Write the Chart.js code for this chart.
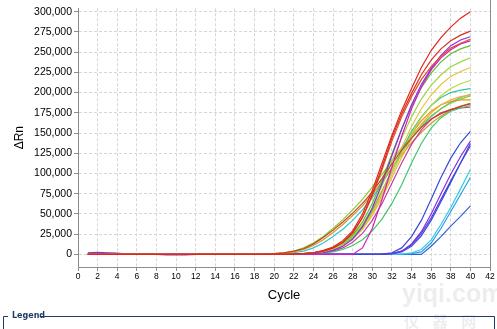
<!DOCTYPE html>
<html>
<head>
<meta charset="utf-8">
<script src="https://cdn.jsdelivr.net/npm/chart.js@4.4.1/dist/chart.umd.min.js"></script>
<style>
html,body{margin:0;padding:0;background:#fff;}
#wrap{width:497px;height:329px;position:relative;}
</style>
</head>
<body>
<div id="wrap"><canvas id="c" width="497" height="329"></canvas></div>
<script>
// Cycle numbers (x values)
const cycles = [1,2,3,4,5,6,7,8,9,10,11,12,13,14,15,16,17,18,19,20,21,22,23,24,25,26,27,28,29,30,31,32,33,34,35,36,37,38,39,40];
// Axis tick labels
const xTicks = [0,2,4,6,8,10,12,14,16,18,20,22,24,26,28,30,32,34,36,38,40,42];
const yTicks = [0,25000,50000,75000,100000,125000,150000,175000,200000,225000,250000,275000,300000];

// ΔRn series values, in thousands
const R1 = [0,0,0,0,0,0,0,0,0,0, 0,0,0,0,0,0,0,0,0,0, 0,0.5,1,2,5,9,17,29,50,79, 113,147,178,205,231,252,268,281,292,300];
const R2 = [0,0,0,0,0,0,0,0,0,0, 0,0,0,0,0,0,0,0,0,0, 0,0.5,1,2,4,8,15,27,46,74, 108,144,174,199,222,240,254,264,271,276];
const R3 = [0,0,0,0,0,0,0,0,0,0, 0,0,0,0,0,0,0,0,0,0, 0,0.5,1,2,4,8,15,26,45,72, 105,140,170,195,216,232,245,255,261,266];
const B1 = [0,0,0,0,0,0,0,0,0,0, 0,0,0,0,0,0,0,0,0.5,1, 2,4,7,13,21,30,40,51,63,77, 94,112,129,144,157,167,174,179,183,186];
const M1 = [0,0,0,0,0,0,0,0,-0.5,-0.5, -0.5,0,0,0,0,0,0,0,0,0, 0,0,0.5,1,2,5,10,19,34,57, 88,122,155,185,210,230,246,258,265,269];
const MG = [0,0,0,0,0,0,0,0,0,0, 0,0,0,0,0,0,0,0,0,0, 0,0,0,0,0,0,0,0,8,32, 68,108,146,180,207,228,243,253,260,264];
const G1 = [0,0,0,0,0,0,0,0,0,0, 0,0,0,0,0,0,0,0,0,0, 0,0,1,2,4,8,14,24,40,63, 92,124,155,183,206,224,238,248,254,258];
const LG = [0,0,0,0,0,0,0,0,0,0, 0,0,0,0,0,0,0,0,0,0, 0,0,1,2,4,7,13,22,37,58, 85,115,144,170,192,209,222,232,238,243];
const Y1 = [0,0,0,0,0,0,0,0,0,0, 0,0,0,0,0,0,0,0,0,0, 0,0,0.5,1,3,6,11,19,32,51, 76,104,132,158,180,197,210,220,226,231];
const YG = [0,0,0,0,0,0,0,0,0,0, 0,0,0,0,0,0,0,0,0,0, 0,0,0.5,1,3,6,11,19,32,50, 73,99,125,149,169,184,196,205,211,215];
const T1 = [0,0,0,0,0,0,0,0,0,0, 0,0,0,0,0,0,0,0,0,0, 0,0.5,1,2,4,7,12,21,34,53, 77,103,129,152,170,184,194,200,203,205];
const Y2 = [0,0,0,0,0,0,0,0,0,0, 0,0,0,0,0,0,0,0,0,0, 0,0,0.5,1,3,6,11,19,31,48, 70,95,120,143,161,175,185,191,195,197];
const O1 = [0,0,0,0,0,0,0,0,0,0, 0,0,0,0,0,0,0,0,0,0, 0,0.5,1,2,4,7,13,22,36,55, 79,104,128,149,165,177,185,189,191,191];
const G2 = [0,0,0,0,0,0,0,0,0,0, 0,0,0,0,0,0,0,0,0,0, 0,0,0.5,1,2,3,6,11,18,29, 44,63,86,113,137,156,169,177,181,184];
const P2 = [0,0,0,0,0,0,0,0,0,0, 0,0,0,0,0,0,0,0,0,0, 0,0,0.5,1,2,4,8,15,26,42, 63,88,113,136,154,167,175,179,181,182];
const EG = [0,0,0,0,0,0,0,0,0,0, 0,0,0,0,0,0,0,0,0.5,1, 2,4,8,14,22,32,43,55,68,83, 99,116,132,147,160,171,180,187,192,196];
const EO = [0,0,0,0,0,0,0,0,0,0, 0,0,0,0,0,0,0,0,0,1, 2,3,6,11,18,27,37,48,60,74, 90,107,123,138,151,162,171,178,183,187];
const EC = [0,0,0,0,0,0,0,0,0,0, 0,0,0,0,0,0,0,0,0,0, 1,2,4,8,14,22,31,42,55,70, 88,107,126,143,158,170,180,188,194,198];
const PB1 = [0,0,0,0,0,0,0,0,0,0, 0,0,0,0,0,0,0,0,0,0, 0,0,0,0,0,0,0,0,0,0, 0.5,2,8,22,42,68,95,119,138,152];
const BB1 = [2,2.5,2,1.5,0.5,0,0,0,0,0, 0,0,0,0,0,0,0,0,0,0, 0,0,0,0,0,0,0,0,0,0, 0.5,1,4,13,28,50,75,99,121,140];
const BB2 = [0,0,0,0,0,0,0,0,0,0, 0,0,0,0,0,0,0,0,0,0, 0,0,0,0,0,0,0,0,0,0, 0,1,3,10,23,42,65,89,113,137];
const PB2 = [0,0,0,0,0,0,0,0,0,0, 0,0,0,0,0,0,0,0,0,0, 0,0,0,0,0,0,0,0,0,0, 0,1,4,12,26,45,68,91,113,134];
const CB1 = [0,0,0,0,0,0,0,0,0,0, 0,0,0,0,0,0,0,0,0,0, 0,0,0,0,0,0,0,0,0,0, 0,0,0.5,2,6,18,37,58,81,105];
const CB2 = [0,0,0,0,0,0,0,0,0,0, 0,0,0,0,0,0,0,0,0,0, 0,0,0,0,0,0,0,0,0,0, 0,0,0,1,3,14,32,53,74,95];
const BB3 = [0,0,0,0,0,0,0,0,0,0, 0,0,0,0,0,0,0,0,0,0, 0,0,0,0,0,0,0,0,0,0, 0,0,0,0,0,10,22,35,47,60];

// series: name, values, colour (first = drawn on top)
const seriesList = [
  ['R1', R1, '#e0281a'], ['R2', R2, '#d83020'], ['R3', R3, '#e24a2a'], ['B1', B1, '#c8401e'],
  ['M1', M1, '#8a34d8'], ['MG', MG, '#d41cc4'], ['G1', G1, '#5cc030'], ['LG', LG, '#9cd640'],
  ['Y1', Y1, '#e8c23c'], ['YG', YG, '#c4d23e'], ['T1', T1, '#30c898'], ['Y2', Y2, '#f0b232'],
  ['O1', O1, '#e89222'], ['G2', G2, '#40c868'], ['P2', P2, '#c0409c'], ['EG', EG, '#88cc30'],
  ['EO', EO, '#c89a30'], ['EC', EC, '#30c6d2'],
  ['PB1', PB1, '#3a48d6'], ['BB1', BB1, '#8030e0'], ['BB2', BB2, '#3050e0'], ['PB2', PB2, '#6036d8'],
  ['CB1', CB1, '#30cce4'], ['CB2', CB2, '#2a9ee6'], ['BB3', BB3, '#3060d4']
];

const datasets = seriesList.map(([name, vals, col]) => ({
  label: name,
  data: vals.map((v, i) => ({x: cycles[i], y: v * 1000})),
  borderColor: col,
  backgroundColor: col,
  borderWidth: 1.2,
  pointRadius: 0,
  tension: 0,
  fill: false
}));

const framePlugin = {
  id: 'frame',
  afterDraw(chart) {
    const ctx = chart.ctx;
    const a = chart.chartArea;
    ctx.save();
    // right border of plot
    ctx.strokeStyle = '#8c8c8c';
    ctx.lineWidth = 1;
    ctx.beginPath();
    ctx.moveTo(Math.round(a.right) + 0.5, 0);
    ctx.lineTo(Math.round(a.right) + 0.5, a.bottom);
    ctx.stroke();
    // watermark
    ctx.fillStyle = 'rgba(215,215,215,0.45)';
    ctx.font = 'bold 25px "Liberation Sans", Arial, sans-serif';
    ctx.textBaseline = 'alphabetic';
    ctx.fillText('yiqi.com', 402, 302);
    ctx.font = 'bold 15px "Noto Sans CJK SC", sans-serif';
    ctx.fillText('仪    器    网', 404, 327);
    // legend frame
    ctx.strokeStyle = '#1c3d6c';
    ctx.lineWidth = 1;
    ctx.beginPath();
    ctx.moveTo(3.5, 329);
    ctx.lineTo(3.5, 316.5);
    ctx.lineTo(8, 316.5);
    ctx.moveTo(40, 316.5);
    ctx.lineTo(494.5, 316.5);
    ctx.lineTo(494.5, 329);
    ctx.stroke();
    ctx.fillStyle = '#1c3d6c';
    ctx.font = 'bold 8px "DejaVu Sans", sans-serif';
    ctx.textBaseline = 'middle';
    ctx.fillText('Legend', 12, 316);
    ctx.restore();
  }
};

new Chart(document.getElementById('c'), {
  type: 'line',
  data: { datasets },
  options: {
    responsive: false,
    animation: false,
    events: [],
    layout: { autoPadding: false, padding: { left: 0, right: 7, top: 0, bottom: 24 } },
    plugins: { legend: { display: false }, tooltip: { enabled: false } },
    scales: {
      x: {
        type: 'linear', min: 0, max: 42,
        afterBuildTicks: s => { s.ticks = xTicks.map(v => ({ value: v })); },
        afterFit: s => { s.height = 38; },
        ticks: { color: '#000', font: { family: '"Liberation Sans", Arial, sans-serif', size: 8.5 }, padding: 1, maxRotation: 0, autoSkip: false },
        grid: { color: '#d6d6d6', lineWidth: 1, tickLength: 4, tickColor: '#8c8c8c', drawTicks: true },
        border: { display: true, color: '#8c8c8c', width: 1, dash: [3, 2] },
        title: { display: true, text: 'Cycle', color: '#000', font: { family: '"Liberation Sans", Arial, sans-serif', size: 13 }, padding: { top: 0, bottom: 2 } }
      },
      y: {
        type: 'linear', min: -15600, max: 304190,
        afterBuildTicks: s => { s.ticks = yTicks.map(v => ({ value: v })); },
        afterFit: s => { s.width = 78; },
        ticks: { color: '#000', font: { family: '"Liberation Sans", Arial, sans-serif', size: 10.5 }, padding: 2,
          callback: v => Number(v).toLocaleString('en-US') },
        grid: { color: '#d6d6d6', lineWidth: 1, tickLength: 4, tickColor: '#8c8c8c', drawTicks: true },
        border: { display: true, color: '#8c8c8c', width: 1, dash: [3, 2] },
        title: { display: true, text: 'ΔRn', color: '#000', font: { family: '"Liberation Sans", Arial, sans-serif', size: 12 }, padding: { top: 12, bottom: 0 } }
      }
    }
  },
  plugins: [framePlugin]
});
</script>
</body>
</html>
